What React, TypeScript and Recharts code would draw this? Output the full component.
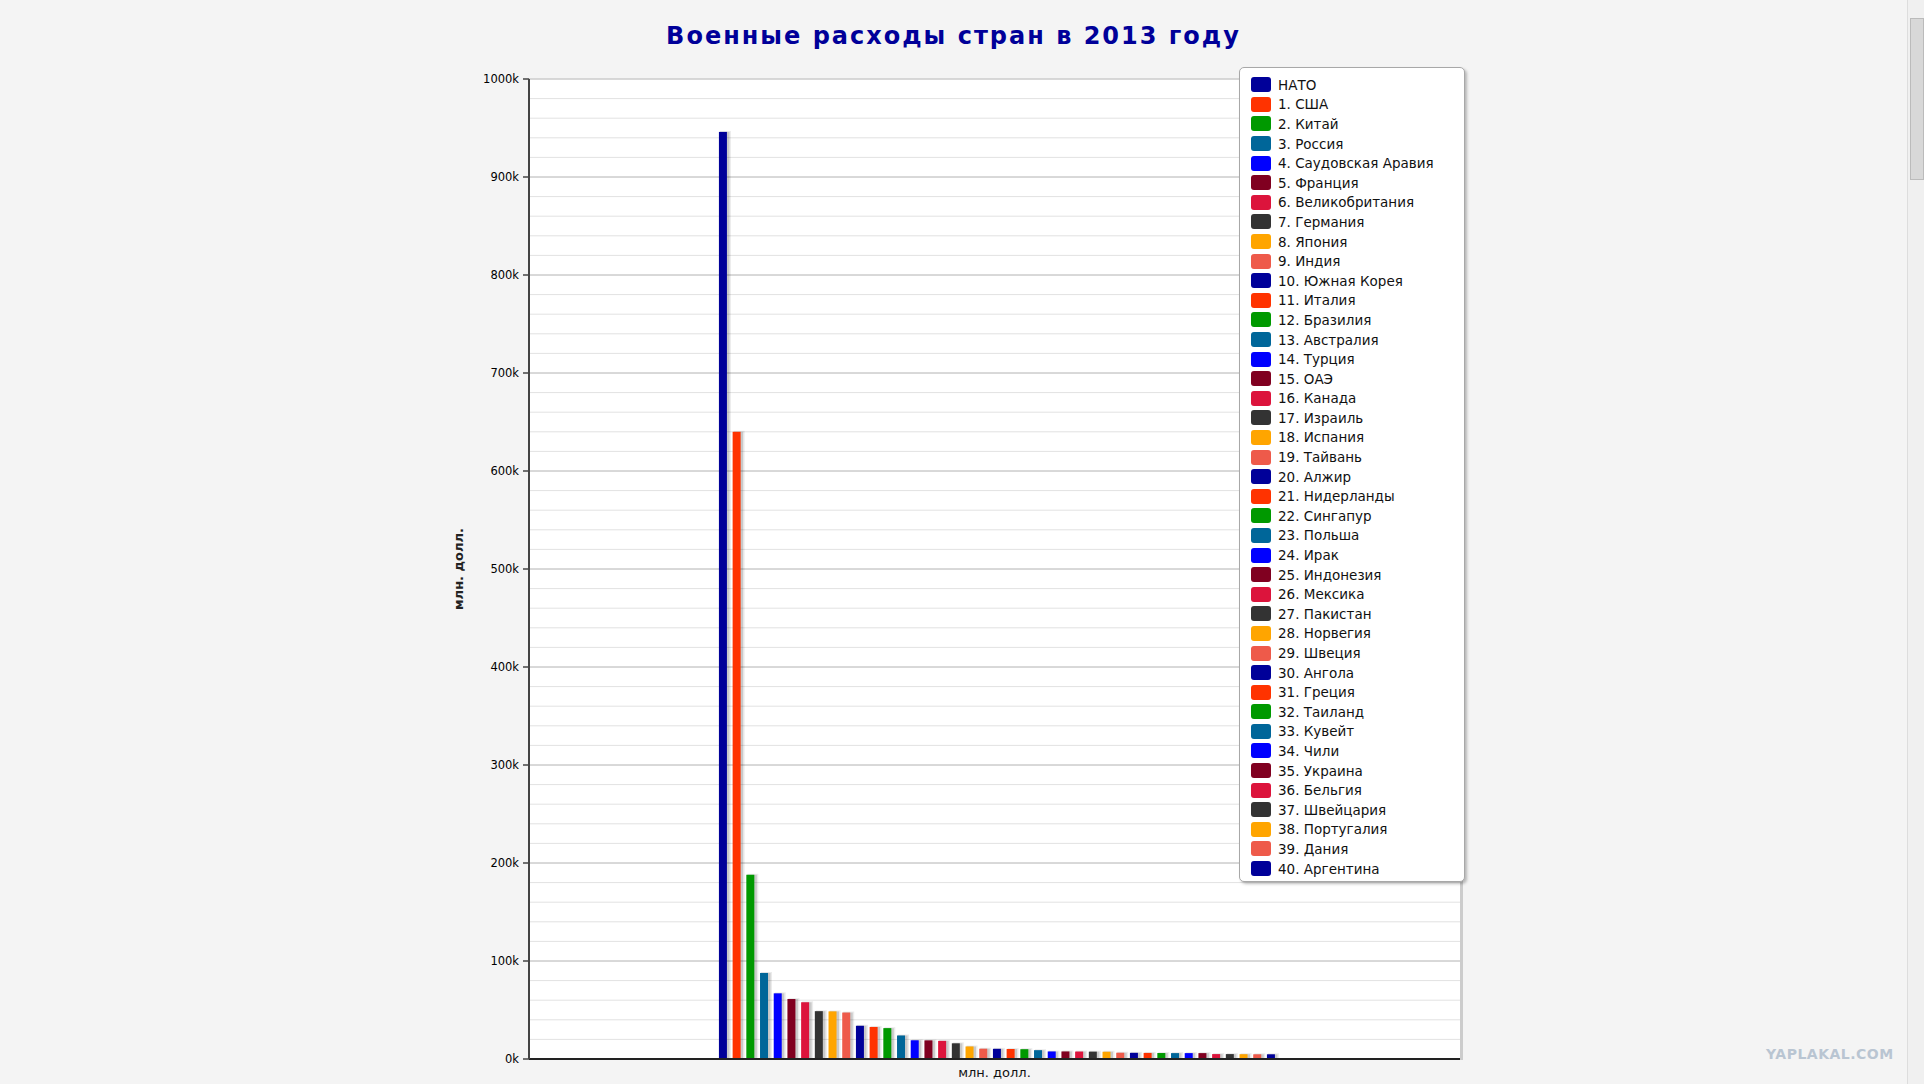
import React from "react";
import { BarChart, Bar, XAxis, YAxis, CartesianGrid } from "recharts";

// military spending 2013, million USD
const COUNTRIES = [
  "НАТО",
  "1. США",
  "2. Китай",
  "3. Россия",
  "4. Саудовская Аравия",
  "5. Франция",
  "6. Великобритания",
  "7. Германия",
  "8. Япония",
  "9. Индия",
  "10. Южная Корея",
  "11. Италия",
  "12. Бразилия",
  "13. Австралия",
  "14. Турция",
  "15. ОАЭ",
  "16. Канада",
  "17. Израиль",
  "18. Испания",
  "19. Тайвань",
  "20. Алжир",
  "21. Нидерланды",
  "22. Сингапур",
  "23. Польша",
  "24. Ирак",
  "25. Индонезия",
  "26. Мексика",
  "27. Пакистан",
  "28. Норвегия",
  "29. Швеция",
  "30. Ангола",
  "31. Греция",
  "32. Таиланд",
  "33. Кувейт",
  "34. Чили",
  "35. Украина",
  "36. Бельгия",
  "37. Швейцария",
  "38. Португалия",
  "39. Дания",
  "40. Аргентина",
];

const SPENDING = [
  946000, 640000, 188000, 87800, 67000, 61200, 57900, 48800, 48600, 47400,
  33900, 32700, 31500, 24000, 19100, 19000, 18500, 16000, 12800, 10500,
  10400, 10200, 10000, 9000, 7700, 7700, 7600, 7500, 7400, 6400,
  6300, 6200, 6100, 6000, 6000, 6000, 5000, 5000, 4900, 4800, 4800,
];

const CATEGORY = "млн. долл.";

const COLORS = [
  "#000099",
  "#FF3300",
  "#009900",
  "#006699",
  "#0000FF",
  "#800020",
  "#DC143C",
  "#333333",
  "#FFA500",
  "#EE5A4A",
];

const Y_MAX = 1000000;
const MAJOR_TICKS = [0, 100000, 200000, 300000, 400000, 500000, 600000, 700000, 800000, 900000, 1000000];
const MINOR_TICKS = Array.from({ length: 51 }, (_, i) => i * 20000);

const row: Record<string, string | number> = { name: CATEGORY };
SPENDING.forEach((v, i) => {
  row["s" + i] = v;
});
const data = [row];

const FONT = "'DejaVu Sans', Verdana, sans-serif";

function ShadowBar(props: any) {
  const { x, y, width, height, fill } = props;
  if (!height || height <= 0) return null;
  return (
    <g>
      <rect x={x + 1} y={y - 1} width={width + 3} height={height + 1} fill="#000" opacity={0.08} />
      <rect x={x + 1} y={y} width={width + 1.5} height={height} fill="#000" opacity={0.14} />
      <rect x={x} y={y} width={width} height={height} fill={fill} />
    </g>
  );
}

// minor grid every 20k, placed inside the plot area
function minorLines({ offset }: any) {
  if (!offset) return [];
  return MINOR_TICKS.map((t) => offset.top + offset.height * (1 - t / Y_MAX));
}

function LegendBox() {
  return (
    <div
      style={{
        position: "absolute",
        left: 1239,
        top: 67,
        background: "#fff",
        border: "1px solid #a8a8a8",
        borderRadius: 5,
        boxShadow: "2px 2px 3px rgba(0,0,0,0.25)",
        padding: "7px 10px 3px 11px",
        fontFamily: FONT,
        fontSize: 13.5,
        color: "#111",
        boxSizing: "border-box",
        width: 226,
      }}
    >
      {COUNTRIES.map((c, i) => (
        <div key={c} style={{ display: "flex", alignItems: "center", height: 19.6 }}>
          <span
            style={{
              display: "inline-block",
              width: 20,
              height: 15,
              borderRadius: 3,
              background: COLORS[i % COLORS.length],
              marginRight: 7,
              flexShrink: 0,
            }}
          />
          <span style={{ whiteSpace: "nowrap" }}>{c}</span>
        </div>
      ))}
    </div>
  );
}

export default function App() {
  return (
    <div style={{ position: "relative", width: 1924, height: 1084, background: "#f4f4f4", overflow: "hidden" }}>
      <style>{`body{margin:0;background:#f4f4f4}`}</style>
      <div
        style={{
          position: "absolute",
          left: 0,
          top: 22,
          width: 1907,
          textAlign: "center",
          fontFamily: FONT,
          fontWeight: "bold",
          fontSize: 24,
          lineHeight: "28px",
          letterSpacing: 2,
          color: "#000099",
        }}
      >
        Военные расходы стран в 2013 году
      </div>
      <div style={{ position: "absolute", left: 1460, top: 80, width: 3, height: 980, background: "#cccccc" }} />
      <div
        style={{
          position: "absolute",
          left: 458,
          top: 569,
          transform: "translate(-50%, -50%) rotate(-90deg)",
          fontFamily: FONT,
          fontWeight: "bold",
          fontSize: 13,
          color: "#222",
          whiteSpace: "nowrap",
        }}
      >
        млн. долл.
      </div>
      <div style={{ position: "absolute", left: 0, top: 0 }}>
        <BarChart
          width={1924}
          height={1084}
          data={data}
          margin={{ top: 79, right: 464, bottom: 0, left: 469 }}
          barCategoryGap="20.4%"
          barGap={5.7}
        >
          <CartesianGrid vertical={false} stroke="#e2e2e2" fill="#ffffff" horizontalCoordinatesGenerator={minorLines} />
          <CartesianGrid vertical={false} stroke="#c0c0c0" />
          <XAxis
            dataKey="name"
            height={25}
            tickLine={false}
            tickSize={0}
            tickMargin={9}
            axisLine={{ stroke: "#222", strokeWidth: 2 }}
            tick={{ fontFamily: FONT, fontSize: 13, fill: "#111" }}
          />
          <YAxis
            width={60}
            domain={[0, Y_MAX]}
            ticks={MAJOR_TICKS}
            interval={0}
            tickFormatter={(v: number) => v / 1000 + "k"}
            tickSize={6}
            tickMargin={4}
            axisLine={{ stroke: "#444", strokeWidth: 2 }}
            tickLine={{ stroke: "#444", strokeWidth: 1.5 }}
            tick={{ fontFamily: FONT, fontSize: 11.5, fill: "#000" }}
          />
          {COUNTRIES.map((c, i) => (
            <Bar
              key={c}
              dataKey={"s" + i}
              name={c}
              fill={COLORS[i % COLORS.length]}
              shape={ShadowBar}
              isAnimationActive={false}
            />
          ))}
        </BarChart>
      </div>
      <LegendBox />
      <div
        style={{
          position: "absolute",
          left: 1766,
          top: 1046,
          fontFamily: FONT,
          fontWeight: "bold",
          fontSize: 14,
          color: "#b9c5d2",
          letterSpacing: 0.5,
        }}
      >
        YAPLAKAL.COM
      </div>
      <div style={{ position: "absolute", left: 1907, top: 0, width: 17, height: 1084, background: "#f0f0f0", borderLeft: "1px solid #ddd" }}>
        <div style={{ position: "absolute", left: 2, top: 18, width: 12, height: 160, background: "#d8d8d8", border: "1px solid #bbb" }} />
      </div>
    </div>
  );
}
